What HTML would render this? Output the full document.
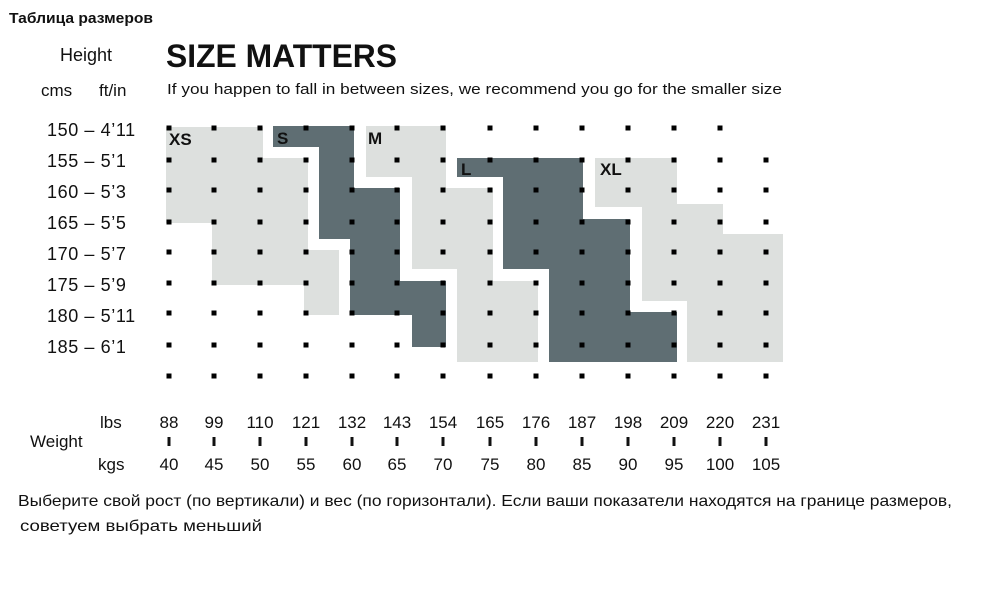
<!DOCTYPE html>
<html><head><meta charset="utf-8"><style>
body{margin:0;background:#fff;width:1000px;height:600px;overflow:hidden}
svg{display:block}
text{font-family:"Liberation Sans","DejaVu Sans",sans-serif;fill:#111}
</style></head><body>
<svg width="1000" height="600" viewBox="0 0 1000 600">
<text x="9" y="23" font-size="15" font-weight="bold" textLength="144" lengthAdjust="spacingAndGlyphs">Таблица размеров</text>
<text x="60" y="61" font-size="18">Height</text>
<text x="41" y="96" font-size="17">cms</text>
<text x="99" y="96" font-size="17">ft/in</text>
<text x="166" y="67" font-size="32" font-weight="bold" textLength="231" lengthAdjust="spacingAndGlyphs">SIZE MATTERS</text>
<text x="167" y="94" font-size="15" textLength="615" lengthAdjust="spacingAndGlyphs">If you happen to fall in between sizes, we recommend you go for the smaller size</text>
<g font-size="18" letter-spacing="0.6">
<text x="47" y="136">150 – 4’11</text>
<text x="47" y="167">155 – 5’1</text>
<text x="47" y="198">160 – 5’3</text>
<text x="47" y="229">165 – 5’5</text>
<text x="47" y="260">170 – 5’7</text>
<text x="47" y="291">175 – 5’9</text>
<text x="47" y="322">180 – 5’11</text>
<text x="47" y="353">185 – 6’1</text>
</g>
<g fill="#dde0de">
<polygon points="166,127 263,127 263,158 308,158 308,285 212,285 212,223 166,223"/>
<rect x="304" y="250" width="35" height="65"/>
<polygon points="366,126 446,126 446,188 493,188 493,281 538,281 538,362 457,362 457,269 412,269 412,177 366,177"/>
<polygon points="595,158 677,158 677,204 723,204 723,234 783,234 783,362 687,362 687,301 642,301 642,207 595,207"/>
</g>
<g fill="#5f6e73">
<polygon points="273,126 354,126 354,188 400,188 400,281 446,281 446,347 412,347 412,315 350,315 350,239 319,239 319,147 273,147"/>
<polygon points="457,158 583,158 583,219 630,219 630,312 677,312 677,362 549,362 549,269 503,269 503,177 457,177"/>
</g>
<g font-size="17" font-weight="bold">
<text x="169" y="145">XS</text>
<text x="277" y="144">S</text>
<text x="368" y="144">M</text>
<text x="461" y="175">L</text>
<text x="600" y="175">XL</text>
</g>
<g fill="#000" id="dots"></g>
<g font-size="17" text-anchor="middle" id="nums"></g>
<text x="100" y="428" font-size="17">lbs</text>
<text x="30" y="447" font-size="17">Weight</text>
<text x="98" y="470" font-size="17">kgs</text>
<text x="18" y="506" font-size="16" textLength="934" lengthAdjust="spacingAndGlyphs">Выберите свой рост (по вертикали) и вес (по горизонтали). Если ваши показатели находятся на границе размеров,</text>
<text x="20" y="531" font-size="16" textLength="242" lengthAdjust="spacingAndGlyphs">советуем выбрать меньший</text>
</svg>
<script>
var xs=[169,214,260,306,352,397,443,490,536,582,628,674,720,766];
var ys=[128,160,190,222,252,283,313,345,376];
var d=document.getElementById('dots'),n=document.getElementById('nums'),s='';
ys.forEach(function(y,r){xs.forEach(function(x,c){if(r==0&&c==13)return;s+='<rect x="'+(x-2.5)+'" y="'+(y-2.5)+'" width="5" height="5"/>';});});
d.innerHTML=s;
var lb=[88,99,110,121,132,143,154,165,176,187,198,209,220,231],t='';
xs.forEach(function(x,i){t+='<text x="'+x+'" y="428">'+lb[i]+'</text><rect x="'+(x-1.5)+'" y="437" width="3" height="9" fill="#111"/><text x="'+x+'" y="470">'+(40+5*i)+'</text>';});
n.innerHTML=t;
</script>
</body></html>
